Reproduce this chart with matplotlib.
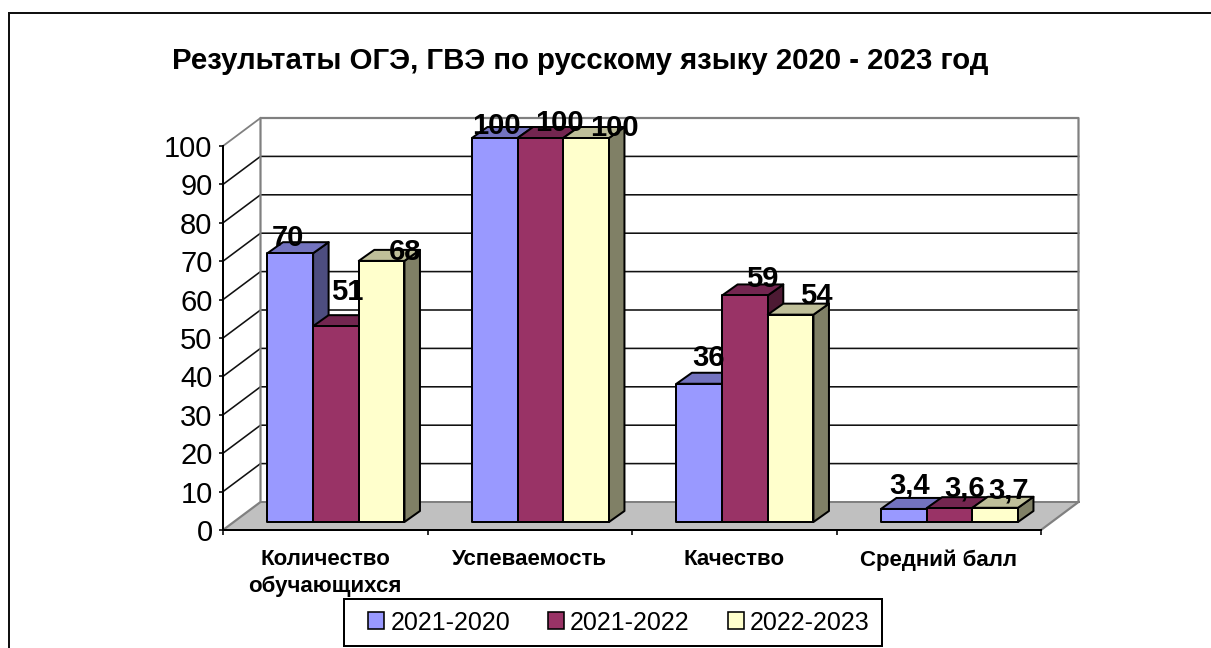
import matplotlib
matplotlib.use("Agg")
import matplotlib.pyplot as plt
from matplotlib.lines import Line2D
from matplotlib.patches import Patch, Rectangle

TITLE = "Результаты ОГЭ, ГВЭ по русскому языку 2020 - 2023 год"
categories = ["Количество\nобучающихся", "Успеваемость", "Качество", "Средний балл"]
series_names = ["2021-2020", "2021-2022", "2022-2023"]
s2021_2020 = [70, 100, 36, 3.4]
s2021_2022 = [51, 100, 59, 3.6]
s2022_2023 = [68, 100, 54, 3.7]
y_ticks = list(range(0, 101, 10))

# styling
front_cols = ["#9999FF", "#993366", "#FFFFCC"]
top_cols = ["#7373BF", "#732650", "#BFBF99"]
side_cols = ["#4D4D80", "#4D1A33", "#808066"]
# data-label offsets in pixels (from the bar's top-centre)
lab_dx = [[-2, 11, 23], [2, 19, 28], [9, 17, 26], [6, 15, 13]]
lab_dy = [[15, 34, 9], [12, 15, 10], [26, 16, 19], [23, 20, 17]]

W, H = 1211, 648
plt.rcParams['font.family'] = ['Liberation Sans', 'DejaVu Sans']
fig = plt.figure(figsize=(W / 100, H / 100), dpi=100)
L, R, T, B = 223, 1041, 146, 530
ax = fig.add_axes([L / W, 1 - B / H, (R - L) / W, (B - T) / H])
ax.set_xlim(0, 4)
ax.set_ylim(0, 100)
ax.patch.set_visible(False)
px = 4 / (R - L)           # x data units per pixel
py = 100 / (B - T)         # y data units per pixel
lw = 0.72                  # points per pixel
dpx, dpy = 37.5 * px, 28 * py   # wall depth

# frame around the chart
fig.add_artist(Line2D([9 / W, 9 / W, 1], [0, 1 - 13 / H, 1 - 13 / H], color="#111111", lw=2 * lw,
                      solid_joinstyle="miter"))

# floor and walls
ax.fill([0, dpx, 4 + dpx, 4], [0, dpy, dpy, 0], color="#C0C0C0", lw=0, clip_on=False, zorder=1)
ax.plot([0, dpx, dpx, 4 + dpx, 4 + dpx, 4], [0, dpy, 100 + dpy, 100 + dpy, dpy, 0],
        color="#808080", lw=2.2 * lw, clip_on=False, zorder=3)
ax.plot([0, dpx], [100, 100 + dpy], color="#808080", lw=1.8 * lw, clip_on=False, zorder=3)
ax.plot([dpx, 4 + dpx], [dpy, dpy], color="#808080", lw=2 * lw, clip_on=False, zorder=3)
for v in y_ticks[1:-1]:
    ax.plot([0, dpx, 4 + dpx], [v, v + dpy, v + dpy], color="#111111", lw=1.6 * lw,
            clip_on=False, zorder=2)

# bars
all_series = [s2021_2020, s2021_2022, s2022_2023]
gap = 0.165
bw = (1 - 2 * gap) / 3
sx, sy = 10.7 * px, 8 * py         # bar offset from front floor
bx, by = 15.5 * px, 11 * py        # bar depth
z = 5
for c in range(len(categories)):
    for s, vals in enumerate(all_series):
        v = vals[c]
        x0 = c + gap + s * bw + sx
        x1 = x0 + bw
        y0, y1 = sy, sy + v
        ec = dict(edgecolor="black", linewidth=2 * lw, joinstyle="round", clip_on=False)
        ax.fill([x1, x1 + bx, x1 + bx, x1], [y0, y0 + by, y1 + by, y1], facecolor=side_cols[s], zorder=z, **ec)
        ax.fill([x0, x0 + bx, x1 + bx, x1], [y1, y1 + by, y1 + by, y1], facecolor=top_cols[s], zorder=z, **ec)
        ax.bar(x0, v, bw, bottom=y0, align="edge", facecolor=front_cols[s], zorder=z, **ec)
        z += 1

for c in range(len(categories)):
    for s, vals in enumerate(all_series):
        v = vals[c]
        xc = c + gap + (s + 0.5) * bw + sx
        ax.annotate(str(v).replace(".", ","), (xc, sy + v),
                    xytext=(lab_dx[c][s] * lw, lab_dy[c][s] * lw), textcoords="offset points",
                    ha="center", va="center", fontsize=21, fontweight="bold", color="black",
                    annotation_clip=False, zorder=50)

# axes
for sp in ("top", "right"):
    ax.spines[sp].set_visible(False)
for sp in ("left", "bottom"):
    ax.spines[sp].set_linewidth(2 * lw)
    ax.spines[sp].set_zorder(4)
ax.set_yticks(y_ticks)
ax.set_yticklabels([str(v) for v in y_ticks], fontsize=21, color="black")
ax.tick_params(axis="y", length=3, width=1.6 * lw, direction="out", pad=4.5)
ax.set_xticks(range(5))
ax.set_xticklabels([])
ax.tick_params(axis="x", which="major", length=3.5, width=1.6 * lw, direction="out")
ax.set_xticks([c + 0.5 for c in range(4)], minor=True)
ax.set_xticklabels(categories, minor=True, fontsize=16, fontweight="bold", linespacing=1.33, va="top")
ax.tick_params(axis="x", which="minor", length=0, pad=14)

fig.text(580.5 / W, 1 - 61 / H, TITLE, ha="center", va="center", fontsize=21.2, fontweight="bold", color="black")

# legend frame and legend
fig.add_artist(Rectangle((344 / W, 1 - 646 / H), 538 / W, 47 / H, transform=fig.transFigure,
                         facecolor="white", edgecolor="black", linewidth=2 * lw))
handles = [Patch(facecolor=c, edgecolor="black", linewidth=1.6 * lw) for c in front_cols]
leg = fig.legend(handles, series_names, ncol=3, loc="center", bbox_to_anchor=(619 / W, 1 - 622.5 / H),
                 frameon=False, fontsize=18,
                 handlelength=0.64, handleheight=0.64, handletextpad=0.24, columnspacing=1.52,
                 borderpad=0, borderaxespad=0)

fig.savefig("out.png", dpi=100)
